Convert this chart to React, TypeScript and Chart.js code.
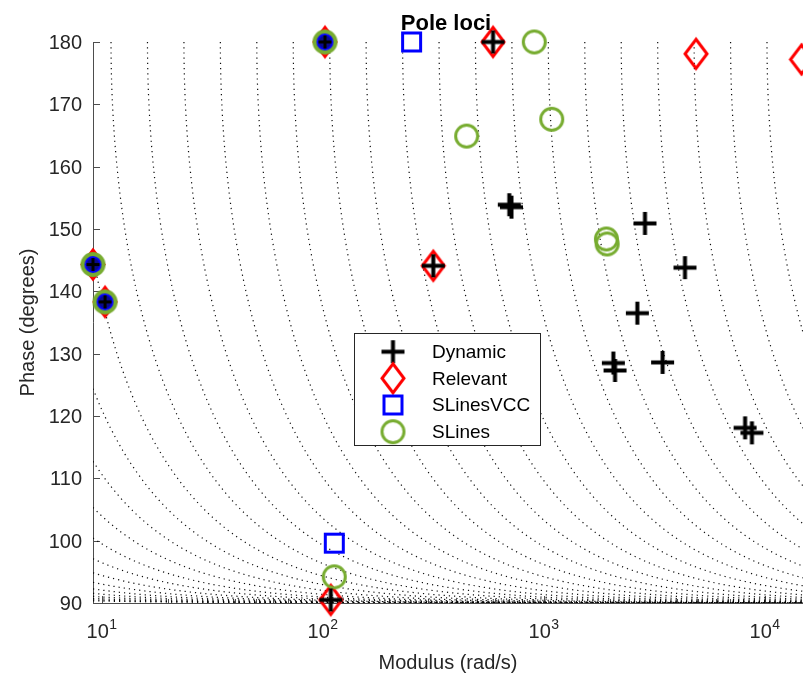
import React, { useEffect, useRef } from "react";
import { Chart, registerables } from "chart.js";

Chart.register(...registerables);

// ---------- axis ranges & ticks ----------
const X_MIN = 9.15;
const X_MAX = 14930;
const Y_MIN = 90;
const Y_MAX = 180;

const yTickValues = [90, 100, 110, 120, 130, 140, 150, 160, 170, 180];
const xTickExponents = [1, 2, 3, 4];
const xMinorMultipliers = [2, 3, 4, 5, 6, 7, 8, 9];

const titleText = "Pole loci";
const xAxisTitle = "Modulus (rad/s)";
const yAxisTitle = "Phase (degrees)";
const seriesNames = ["Dynamic", "Relevant", "SLinesVCC", "SLines"];

// ---------- series (modulus in rad/s, phase in degrees) ----------
const dynamicModulus = [9.15, 10.37, 102.6, 591, 700, 716, 317, 2877, 4365, 2658, 2070, 2106, 3458, 8166, 8770, 109];
const dynamicPhase = [144.3, 138.3, 180, 180, 153.9, 153.5, 144.1, 150.9, 143.8, 136.5, 128.5, 127.3, 128.6, 118.1, 117.3, 90.5];

const relevantModulus = [9.15, 10.37, 102.6, 591, 317, 4898, 14700, 109];
const relevantPhase = [144.3, 138.3, 180, 180, 144.1, 178.1, 177.2, 90.5];

const slinesVccModulus = [9.15, 10.37, 102.6, 253, 113];
const slinesVccPhase = [144.3, 138.3, 180, 180, 99.6];

const slinesModulus = [9.15, 10.37, 102.6, 908, 449, 1089, 1925, 1940, 113];
const slinesPhase = [144.3, 138.3, 180, 180, 164.9, 167.6, 148.4, 147.6, 94.2];

// number of leading points in every series that sit in the overlapping clusters
const CLUSTER_COUNT = 3;

// ---------- constant real-part grid (|Re(p)| values, rad/s) ----------
const gridSigma = [
  0.05427, 0.07931, 0.1159, 0.1695, 0.2477, 0.3621, 0.5295, 0.7741, 1.131, 1.654,
  2.418, 3.535, 5.167, 7.553, 11.04, 16.14, 23.6, 34.49, 50.42, 73.72, 107.8,
  157.5, 230.3, 336.7, 492.0, 719.4, 1051, 1537, 2247, 3285, 4802, 7020, 10260,
];

// ---------- styling ----------
const FONT = '"Liberation Sans", Arial, Helvetica, sans-serif';
const AXIS_COLOR = "#4d4d4d";
const TEXT_COLOR = "#262626";
const GREEN = "#77ac30";

function mk(w: number, h: number, draw: (c: CanvasRenderingContext2D) => void) {
  const cv = document.createElement("canvas");
  cv.width = w;
  cv.height = h;
  const c = cv.getContext("2d")!;
  draw(c);
  return cv;
}

function plusMarker(arm: number, lw: number) {
  const s = Math.ceil(arm * 2 + 2);
  return mk(s, s, (c) => {
    const m = s / 2;
    c.strokeStyle = "#000";
    c.lineWidth = lw;
    c.lineCap = "butt";
    c.beginPath();
    c.moveTo(m - arm, m);
    c.lineTo(m + arm, m);
    c.moveTo(m, m - arm);
    c.lineTo(m, m + arm);
    c.stroke();
  });
}

function diamondMarker(hw: number, hh: number, lw: number) {
  const w = Math.ceil(hw * 2 + lw * 2 + 2);
  const h = Math.ceil(hh * 2 + lw * 2 + 2);
  return mk(w, h, (c) => {
    const cx = w / 2, cy = h / 2;
    c.strokeStyle = "#ff0000";
    c.lineWidth = lw;
    c.lineJoin = "miter";
    c.beginPath();
    c.moveTo(cx, cy - hh);
    c.lineTo(cx + hw, cy);
    c.lineTo(cx, cy + hh);
    c.lineTo(cx - hw, cy);
    c.closePath();
    c.stroke();
  });
}

function squareMarker(half: number, lw: number) {
  const s = Math.ceil(half * 2 + lw + 2);
  return mk(s, s, (c) => {
    const m = s / 2;
    c.strokeStyle = "#0000ff";
    c.lineWidth = lw;
    c.strokeRect(m - half, m - half, half * 2, half * 2);
  });
}

function circleMarker(r: number, lw: number) {
  const s = Math.ceil(r * 2 + lw + 2);
  return mk(s, s, (c) => {
    const m = s / 2;
    c.strokeStyle = GREEN;
    c.lineWidth = lw;
    c.beginPath();
    c.arc(m, m, r, 0, Math.PI * 2);
    c.stroke();
  });
}

function blobMarker(r: number) {
  const s = Math.ceil(r * 2 + 4);
  return mk(s, s, (c) => {
    const m = s / 2;
    c.fillStyle = "#0a0a8c";
    c.strokeStyle = "#0000ff";
    c.lineWidth = 2;
    c.beginPath();
    c.arc(m, m, r, 0, Math.PI * 2);
    c.fill();
    c.stroke();
  });
}

function toPoints(xs: number[], ys: number[]) {
  return xs.map((x, i) => ({ x, y: ys[i] }));
}

function gridCurve(sigma: number) {
  const rStart = Math.max(sigma, X_MIN);
  const rs: number[] = [];
  const n = 300;
  const l0 = Math.log10(rStart);
  const l1 = Math.log10(X_MAX);
  for (let i = 0; i <= n; i++) rs.push(Math.pow(10, l0 + ((l1 - l0) * i) / n));
  const phiStart = (Math.asin(Math.min(1, sigma / rStart)) * 180) / Math.PI;
  for (let phi = phiStart; phi > 0; phi -= 0.25) {
    const r = sigma / Math.sin((phi * Math.PI) / 180);
    if (r >= rStart && r <= X_MAX) rs.push(r);
  }
  rs.sort((a, b) => a - b);
  return rs.map((r) => ({ x: r, y: 90 + (Math.asin(Math.min(1, sigma / r)) * 180) / Math.PI }));
}

export default function App() {
  const ref = useRef<HTMLCanvasElement | null>(null);

  useEffect(() => {
    const canvas = ref.current;
    if (!canvas) return;

    const plus = plusMarker(11.5, 4);
    const plusSmall = plusMarker(6.5, 3);
    const diamond = diamondMarker(11, 14.5, 3);
    const square = squareMarker(9, 3);
    const circle = circleMarker(11, 3);
    const ringThick = circleMarker(10, 5);
    const blob = blobMarker(7.5);

    const styleFor = (n: number, cluster: HTMLCanvasElement, normal: HTMLCanvasElement) =>
      Array.from({ length: n }, (_, i) => (i < CLUSTER_COUNT ? cluster : normal));

    const curveSets = gridSigma.map((s) => ({
      label: "grid",
      data: gridCurve(s),
      showLine: true,
      borderColor: "rgba(0,0,0,0.95)",
      borderWidth: 1.2,
      borderDash: [1.2, 4],
      pointRadius: 0,
      order: 10,
    }));

    const markerSets = [
      {
        label: seriesNames[1],
        data: toPoints(relevantModulus, relevantPhase),
        pointStyle: styleFor(relevantModulus.length, diamond, diamond),
        pointRadius: 12,
        showLine: false,
        clip: false,
        order: 4,
      },
      {
        label: seriesNames[3],
        data: toPoints(slinesModulus, slinesPhase),
        pointStyle: styleFor(slinesModulus.length, ringThick, circle),
        pointRadius: 12,
        showLine: false,
        clip: false,
        order: 3,
      },
      {
        label: seriesNames[2],
        data: toPoints(slinesVccModulus, slinesVccPhase),
        pointStyle: styleFor(slinesVccModulus.length, blob, square),
        pointRadius: 12,
        showLine: false,
        clip: false,
        order: 2,
      },
      {
        label: seriesNames[0],
        data: toPoints(dynamicModulus, dynamicPhase),
        pointStyle: styleFor(dynamicModulus.length, plusSmall, plus),
        pointRadius: 12,
        showLine: false,
        clip: false,
        order: 1,
      },
    ];

    const legendMarkers = [plus, diamond, square, circle];

    const decor = {
      id: "decor",
      beforeDatasetsDraw(chart: any) {
        const { ctx, chartArea: a, scales } = chart;
        const xs = scales.x;
        const ys = scales.y;
        ctx.save();
        ctx.strokeStyle = AXIS_COLOR;
        ctx.lineWidth = 1;
        ctx.beginPath();
        ctx.moveTo(a.left + 0.5, a.top);
        ctx.lineTo(a.left + 0.5, a.bottom + 0.5);
        ctx.lineTo(a.right, a.bottom + 0.5);
        yTickValues.forEach((v) => {
          const y = Math.round(ys.getPixelForValue(v)) + 0.5;
          ctx.moveTo(a.left, y);
          ctx.lineTo(a.left + 7, y);
        });
        xTickExponents.forEach((e) => {
          const x = Math.round(xs.getPixelForValue(Math.pow(10, e))) + 0.5;
          ctx.moveTo(x, a.bottom);
          ctx.lineTo(x, a.bottom - 7);
        });
        [0, ...xTickExponents].forEach((e) => {
          xMinorMultipliers.forEach((m) => {
            const v = m * Math.pow(10, e);
            if (v < X_MIN || v > X_MAX) return;
            const x = Math.round(xs.getPixelForValue(v)) + 0.5;
            ctx.moveTo(x, a.bottom);
            ctx.lineTo(x, a.bottom - 4);
          });
        });
        ctx.stroke();
        ctx.restore();
      },
      afterDraw(chart: any) {
        const { ctx, chartArea: a, scales } = chart;
        const xs = scales.x;
        const ys = scales.y;
        ctx.save();
        ctx.fillStyle = TEXT_COLOR;

        ctx.font = `20px ${FONT}`;
        ctx.textAlign = "right";
        ctx.textBaseline = "alphabetic";
        yTickValues.forEach((v) => {
          ctx.fillText(String(v), a.left - 11, ys.getPixelForValue(v) + 7);
        });

        xTickExponents.forEach((e) => {
          const x = xs.getPixelForValue(Math.pow(10, e));
          ctx.font = `20px ${FONT}`;
          const wb = ctx.measureText("10").width;
          ctx.font = `14px ${FONT}`;
          const we = ctx.measureText(String(e)).width;
          const start = x - (wb + we) / 2;
          ctx.textAlign = "left";
          ctx.font = `20px ${FONT}`;
          ctx.fillText("10", start, 638);
          ctx.font = `14px ${FONT}`;
          ctx.fillText(String(e), start + wb + 0.5, 629);
        });

        ctx.font = `20px ${FONT}`;
        ctx.textAlign = "center";
        ctx.fillText(xAxisTitle, (a.left + a.right) / 2, 669);
        ctx.save();
        ctx.translate(34, (a.top + a.bottom) / 2);
        ctx.rotate(-Math.PI / 2);
        ctx.fillText(yAxisTitle, 0, 0);
        ctx.restore();

        ctx.fillStyle = "#000";
        ctx.font = `bold 22px ${FONT}`;
        ctx.textAlign = "center";
        ctx.fillText(titleText, (a.left + a.right) / 2 - 2, 30);

        const lx = 354, ly = 333, lw = 186, lh = 112;
        ctx.fillStyle = "#fff";
        ctx.fillRect(lx, ly, lw, lh);
        ctx.strokeStyle = TEXT_COLOR;
        ctx.lineWidth = 1;
        ctx.strokeRect(lx + 0.5, ly + 0.5, lw, lh);
        const rows = [351.7, 378.3, 405, 431.7];
        ctx.font = `19px ${FONT}`;
        ctx.textAlign = "left";
        ctx.textBaseline = "middle";
        ctx.fillStyle = "#000";
        seriesNames.forEach((name, i) => {
          const img = legendMarkers[i];
          ctx.drawImage(img, 393 - img.width / 2, rows[i] - img.height / 2);
          ctx.fillText(name, 432, rows[i] + 1);
        });
        ctx.restore();
      },
    };

    const chart = new Chart(canvas, {
      type: "scatter",
      data: { datasets: [...curveSets, ...markerSets] as any },
      options: {
        animation: false,
        responsive: false,
        devicePixelRatio: 1,
        events: [],
        layout: { autoPadding: false, padding: { left: 93, right: 0, top: 42, bottom: 75 } },
        scales: {
          x: { type: "logarithmic", min: X_MIN, max: X_MAX, display: false },
          y: { type: "linear", min: Y_MIN, max: Y_MAX, display: false },
        },
        plugins: {
          legend: { display: false },
          tooltip: { enabled: false },
          title: { display: false },
        },
      } as any,
      plugins: [decor],
    });

    return () => chart.destroy();
  }, []);

  return (
    <div style={{ position: "fixed", left: 0, top: 0, width: 803, height: 678, background: "#fff" }}>
      <canvas ref={ref} width={803} height={678} style={{ display: "block" }} />
    </div>
  );
}
